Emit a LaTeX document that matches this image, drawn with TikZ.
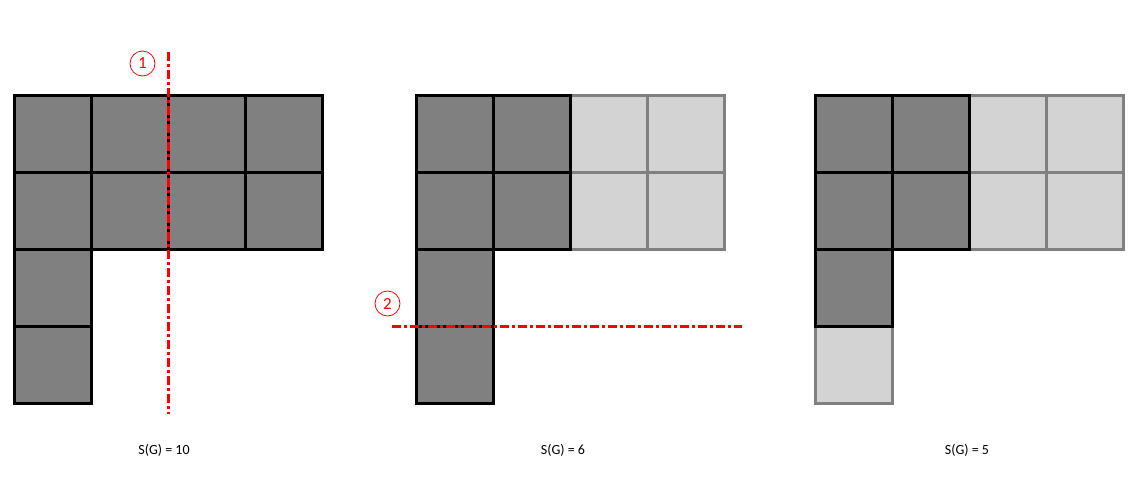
\documentclass[tikz,border=0pt]{standalone}
\usepackage{fontspec}
\setmainfont{Carlito}
\usetikzlibrary{positioning}
\definecolor{darkcell}{HTML}{808080}
\definecolor{lightcell}{HTML}{D3D3D3}
\tikzstyle{dark cell}=[draw=black,fill=darkcell,line width=3pt]
\tikzstyle{light cell}=[draw=darkcell,fill=lightcell,line width=3pt]
\tikzstyle{cut}=[draw=red,line width=3pt,dash pattern=on 9pt off 3pt on 3pt off 3pt]
\tikzstyle{step no}=[circle,draw=red,text=red,line width=0.8pt,minimum size=25pt,inner sep=0pt,font=\fontsize{17}{19}\selectfont]
\tikzstyle{score}=[font=\fontsize{14}{16}\selectfont]
\begin{document}
\begin{tikzpicture}[x=1pt,y=-1pt]
    \useasboundingbox (0,0) rectangle (1144,499);
    % First grid: all cells kept
    \begin{scope}[shift={(14,95)}]
        \foreach \c/\r in {0/0,1/0,2/0,3/0,0/1,1/1,2/1,3/1,0/2,0/3}
            \draw[dark cell] (77*\c,77*\r) rectangle ++(77,77);
    \end{scope}
    % Second grid: right half cut away
    \begin{scope}[shift={(416,95)}]
        \foreach \c/\r in {2/0,3/0,2/1,3/1}
            \draw[light cell] (77*\c,77*\r) rectangle ++(77,77);
        \foreach \c/\r in {0/0,1/0,0/1,1/1,0/2,0/3}
            \draw[dark cell] (77*\c,77*\r) rectangle ++(77,77);
    \end{scope}
    % Third grid: bottom cell cut away too
    \begin{scope}[shift={(815,95)}]
        \foreach \c/\r in {2/0,3/0,2/1,3/1,0/3}
            \draw[light cell] (77*\c,77*\r) rectangle ++(77,77);
        \foreach \c/\r in {0/0,1/0,0/1,1/1,0/2}
            \draw[dark cell] (77*\c,77*\r) rectangle ++(77,77);
    \end{scope}
    % Cuts
    \coordinate (cut1 top) at (168.5,52);
    \coordinate (cut1 bottom) at (168.5,414);
    \coordinate (cut2 left) at (392,326);
    \coordinate (cut2 right) at (742,326);
    \path[cut] (cut1 top) -- (cut1 bottom);
    \path[cut] (cut2 left) -- (cut2 right);
    \node[step no] (step1) at (142.5,63.5) {1};
    \node[step no] (step2) at (387.5,303.5) {2};
    % Scores
    \node[score] (score1) at (164,450) {S(G) = 10};
    \node[score] (score2) at (563,450) {S(G) = 6};
    \node[score] (score3) at (967,450) {S(G) = 5};
\end{tikzpicture}
\end{document}
